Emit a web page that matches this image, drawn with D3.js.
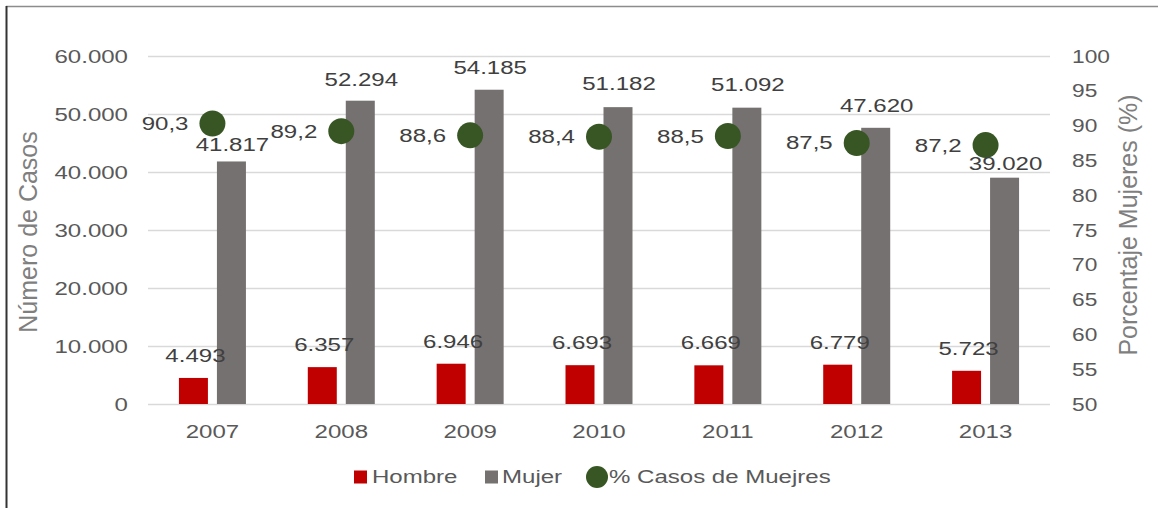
<!DOCTYPE html>
<html><head><meta charset="utf-8">
<script src="https://cdn.jsdelivr.net/npm/d3@7"></script>
<style>body{margin:0;background:#fff}svg{display:block;font-family:"Liberation Sans",Arial,sans-serif}</style>
</head><body><svg id="c" width="1158" height="508"></svg>
<script>
const years = ["2007","2008","2009","2010","2011","2012","2013"];
const hombre = [4493,6357,6946,6693,6669,6779,5723];
const mujer = [41817,52294,54185,51182,51092,47620,39020];
const pctMujeres = [90.3,89.2,88.6,88.4,88.5,87.5,87.2];
const leftTicks = [0,10000,20000,30000,40000,50000,60000];
const rightTicks = [50,55,60,65,70,75,80,85,90,95,100];
// label gap above Mujer bars (px), as placed in the original
const mujerLabelGap = [10,15,16,17,17,16,8];

const svg = d3.select("#c");
const L = 148, R = 1050, T = 56, B = 404;
const SX = 1.3; // horizontal stretch of the original's text
const fmt = v => d3.format(",")(v).replace(/,/g, ".");
const fmtPct = v => d3.format(".1f")(v).replace(".", ",");

function stext(parent, x, y, str, anchor, size, fill, dy) {
  const g = parent.append("g").attr("transform", `translate(${x},${y}) scale(${SX},1)`);
  g.append("text").attr("text-anchor", anchor).attr("fill", fill).style("font-size", size + "px")
    .attr("dy", dy || 0).text(str);
  return g;
}

// frame
svg.append("line").attr("x1",6).attr("x2",1158).attr("y1",6.5).attr("y2",6.5).attr("stroke","#8c8c8c").attr("stroke-width",1.5);
svg.append("line").attr("x1",6.5).attr("x2",6.5).attr("y1",6).attr("y2",508).attr("stroke","#333").attr("stroke-width",2);

const x = d3.scaleBand().domain(years).range([L,R]);
const y = d3.scaleLinear().domain([0,60000]).range([B,T]);
const y2 = d3.scaleLinear().domain([50,100]).range([B,T]);

// gridlines
svg.append("g").selectAll("line").data(leftTicks).join("line")
  .attr("x1",L).attr("x2",R).attr("y1",d=>Math.round(y(d))+0.5).attr("y2",d=>Math.round(y(d))+0.5)
  .attr("stroke","#d9d9d9").attr("stroke-width",1.5);

// left axis
const ga = svg.append("g").attr("transform",`translate(${L-20},0)`)
  .call(d3.axisLeft(y).tickValues(leftTicks).tickFormat(fmt).tickSize(0).tickPadding(0));
ga.select(".domain").remove();
ga.selectAll("text").attr("fill","#595959").style("font-size","18.5px").attr("dy","0.35em").attr("transform",`scale(${SX},1)`);

// right axis
const gr = svg.append("g").attr("transform",`translate(${R+22},0)`)
  .call(d3.axisRight(y2).tickValues(rightTicks).tickSize(0).tickPadding(0));
gr.select(".domain").remove();
gr.selectAll("text").attr("fill","#595959").style("font-size","17.5px").attr("dy","0.35em").attr("transform",`scale(${SX},1)`);

// x axis
const gx = svg.append("g").attr("transform",`translate(0,${B})`)
  .call(d3.axisBottom(x).tickSize(0).tickPadding(21));
gx.select(".domain").remove();
gx.selectAll("text").attr("fill","#595959").style("font-size","18.5px").attr("transform",`scale(${SX},1)`);

// axis titles
svg.append("text").attr("transform","translate(37,232) rotate(-90)").attr("text-anchor","middle")
  .attr("fill","#7f7f7f").style("font-size","25px").text("Número de Casos");
svg.append("text").attr("transform","translate(1137,225) rotate(-90)").attr("text-anchor","middle")
  .attr("fill","#7f7f7f").style("font-size","25px").text("Porcentaje Mujeres (%)");

const bw = 29, off = 19;
const cx = d => x(d) + x.bandwidth()/2;

// bars
svg.append("g").selectAll("rect").data(years).join("rect")
  .attr("x",(d,i)=>cx(d)-off-bw/2).attr("width",bw)
  .attr("y",(d,i)=>y(hombre[i])).attr("height",(d,i)=>B-y(hombre[i])).attr("fill","#c00000");
svg.append("g").selectAll("rect").data(years).join("rect")
  .attr("x",(d,i)=>cx(d)+off-bw/2).attr("width",bw)
  .attr("y",(d,i)=>y(mujer[i])).attr("height",(d,i)=>B-y(mujer[i])).attr("fill","#767171");

// points
svg.append("g").selectAll("circle").data(years).join("circle")
  .attr("cx",d=>cx(d)).attr("cy",(d,i)=>y2(pctMujeres[i])).attr("r",13).attr("fill","#375623");

// labels
const lab = svg.append("g");
years.forEach((d,i) => {
  stext(lab, cx(d)-off+2, y(hombre[i])-16, fmt(hombre[i]), "middle", 18.5, "#404040");
  stext(lab, cx(d)+off+1, y(mujer[i])-mujerLabelGap[i], fmt(mujer[i]), "middle", 18.5, "#404040");
  stext(lab, cx(d)-24, y2(pctMujeres[i]), fmtPct(pctMujeres[i]), "end", 18.5, "#404040", "0.35em");
});

// legend
const lg = svg.append("g");
const ly = 477;
lg.append("rect").attr("x",354).attr("y",ly-6.5).attr("width",13).attr("height",13).attr("fill","#c00000");
stext(lg, 372, ly, "Hombre", "start", 18.5, "#595959", "0.35em");
lg.append("rect").attr("x",485).attr("y",ly-6.5).attr("width",13).attr("height",13).attr("fill","#767171");
stext(lg, 502, ly, "Mujer", "start", 18.5, "#595959", "0.35em");
lg.append("circle").attr("cx",597).attr("cy",ly).attr("r",11).attr("fill","#375623");
stext(lg, 609, ly, "% Casos de Muejres", "start", 18.5, "#595959", "0.35em");
</script></body></html>
